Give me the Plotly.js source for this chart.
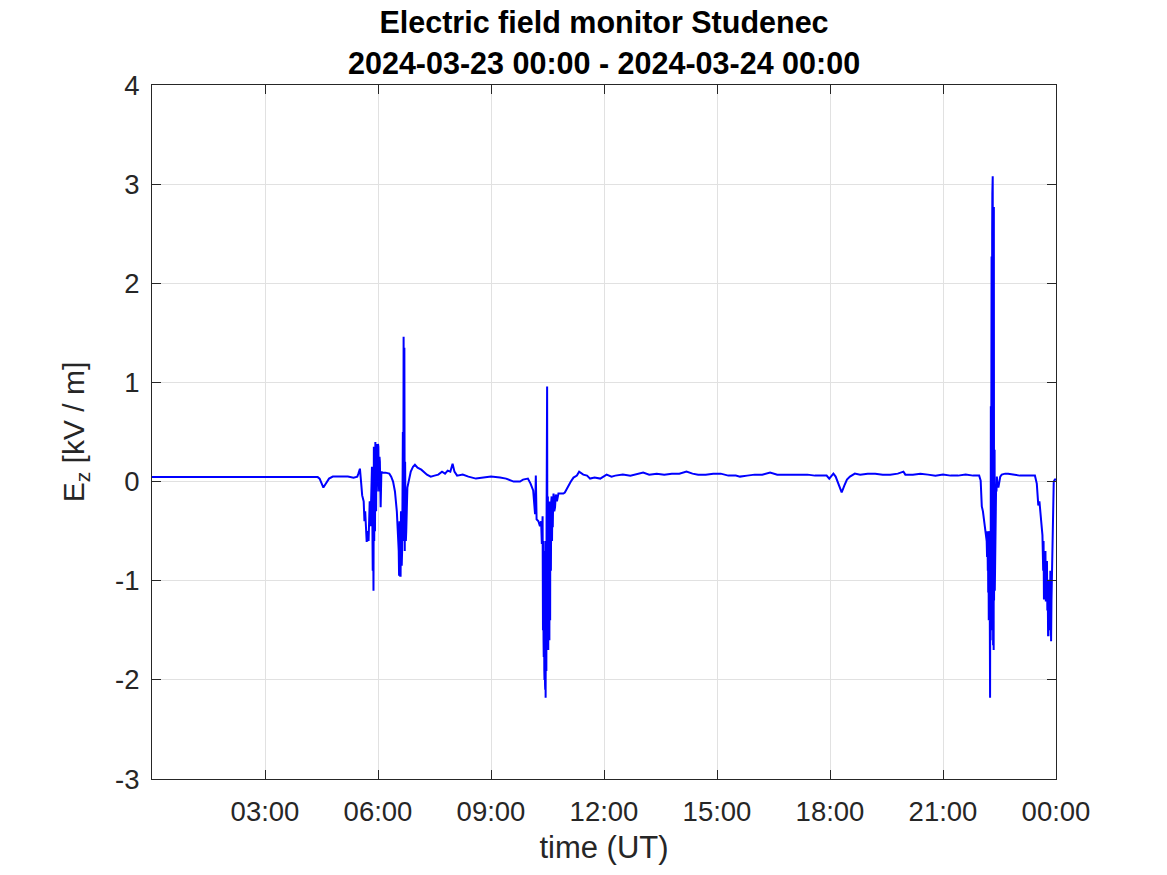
<!DOCTYPE html>
<html>
<head>
<meta charset="utf-8">
<script src="https://cdn.plot.ly/plotly-3.0.1.min.js"></script>
<style>html,body{margin:0;padding:0;background:#fff;}#chart{width:1167px;height:875px;}</style>
</head>
<body>
<div id="chart"></div>
<script>
// time in hours since 2024-03-23 00:00 UT
const hours = [
0.00,0.25,0.50,0.75,1.00,1.25,1.50,1.75,2.00,2.25,2.50,2.75,3.00,3.25,3.50,3.75,4.00,4.25,4.40,4.45,4.50,4.55,4.60,4.70,4.80,5.00,5.20,5.35,5.45,5.48,5.52,5.55,5.58,5.62,5.64,5.66,5.70,5.72,5.75,5.78,5.80,5.84,5.86,5.87,5.88,5.89,5.90,5.91,5.92,5.93,5.94,5.95,5.96,5.97,5.98,5.99,6.00,6.01,6.02,6.03,6.04,6.05,6.07,6.09,6.12,6.20,6.30,6.35,6.40,6.45,6.50,6.53,6.55,6.56,6.57,6.58,6.59,6.60,6.61,6.62,6.63,6.64,6.65,6.66,6.67,6.68,6.69,6.70,6.71,6.72,6.73,6.74,6.75,6.78,6.82,6.87,6.93,6.98,7.05,7.15,7.30,7.40,7.50,7.60,7.70,7.78,7.85,7.92,7.98,8.03,8.10,8.25,8.40,8.50,8.60,8.80,9.00,9.24,9.40,9.60,9.77,9.85,9.98,10.05,
10.12,10.17,10.19,10.21,10.26,10.30,10.33,10.35,10.37,10.38,10.385,10.39,10.395,10.40,10.405,10.41,10.415,10.42,10.425,10.43,10.435,10.44,10.445,10.45,10.455,10.46,10.465,10.47,10.475,10.48,10.49,10.50,10.505,10.51,10.515,10.52,10.525,10.53,10.535,10.54,10.545,10.55,10.555,10.56,10.565,10.57,10.575,10.58,10.585,10.59,10.60,10.61,10.62,10.63,10.64,10.65,10.66,10.68,10.70,10.72,10.75,10.79,10.85,10.92,10.96,11.05,11.12,11.19,11.28,11.34,11.45,11.55,11.63,11.75,11.90,12.07,12.20,12.30,12.50,12.70,12.90,13.04,13.20,13.40,13.60,13.80,14.00,14.19,14.35,14.50,14.70,14.90,15.10,15.30,15.50,15.61,15.80,16.00,16.20,16.41,16.60,16.80,17.03,17.20,17.40,17.60,17.80,17.91,17.98,18.09,18.15,18.22,18.31,18.38,18.45,18.53,18.66,18.80,19.00,19.20,19.40,19.60,19.80,19.95,20.00,20.20,20.40,20.60,20.80,21.00,21.20,21.40,21.60,21.80,21.96,
22.00,22.03,22.06,22.09,22.12,22.14,22.16,22.17,22.18,22.19,22.195,22.20,22.205,22.21,22.215,22.22,22.225,22.23,22.235,22.24,22.245,22.25,22.255,22.26,22.265,22.27,22.275,22.28,22.285,22.29,22.295,22.30,22.305,22.31,22.315,22.32,22.325,22.33,22.335,22.34,22.345,22.35,22.355,22.36,22.365,22.37,22.375,22.38,22.39,22.40,22.41,22.42,22.43,22.44,22.47,22.52,22.56,22.65,22.73,22.85,23.04,23.20,23.35,23.44,23.49,23.53,23.56,23.59,23.62,23.64,23.66,23.67,23.68,23.69,23.70,23.71,23.72,23.73,23.74,23.75,23.76,23.77,23.78,23.79,23.80,23.81,23.82,23.83,23.84,23.85,23.86,23.87,23.88,23.89,23.91,23.94,23.97,24.00
];
// vertical electric field Ez [kV/m]
const ez = [
0.045,0.045,0.048,0.047,0.050,0.048,0.050,0.046,0.045,0.047,0.048,0.046,0.050,0.047,0.050,0.052,0.046,0.047,0.045,0.030,-0.020,-0.060,-0.030,0.030,0.050,0.050,0.050,0.040,0.050,0.080,0.130,0.000,-0.140,-0.200,-0.400,-0.300,-0.610,-0.500,-0.600,-0.200,-0.450,0.150,-0.900,-0.300,-1.100,0.350,-0.600,0.200,-0.500,0.400,-0.200,-0.300,0.380,-0.100,0.300,0.100,0.380,0.350,0.000,-0.100,0.250,0.200,-0.260,0.100,0.090,0.090,0.080,0.050,0.000,-0.100,-0.300,-0.550,-0.700,-0.950,-0.400,-0.700,-0.950,-0.950,-0.300,-0.500,-0.850,-0.700,-0.200,0.500,-0.600,1.460,-0.400,1.350,-0.700,0.200,-0.300,-0.600,-0.500,-0.060,0.000,0.100,0.150,0.170,0.140,0.120,0.070,0.050,0.060,0.070,0.100,0.080,0.110,0.100,0.180,0.100,0.060,0.070,0.050,0.040,0.030,0.040,0.050,0.040,0.030,0.000,0.000,0.020,0.030,-0.020,
-0.090,-0.330,0.060,-0.380,-0.400,-0.450,-0.400,-0.630,-0.350,-1.500,-0.600,-0.800,-1.600,-1.770,-0.700,-1.000,-1.900,-2.000,-0.900,-1.200,-2.050,-2.100,-0.600,-2.180,-0.800,-0.800,-1.900,-1.900,-0.400,-0.200,0.960,-1.600,-0.300,-0.150,-1.500,-1.700,-0.300,-0.200,-1.600,-1.450,-0.400,-1.600,-0.250,-0.300,-1.300,-1.400,-0.200,-0.250,-1.000,-0.900,-0.200,-0.150,-0.600,-0.150,-0.460,-0.200,-0.120,-0.300,-0.260,-0.130,-0.200,-0.120,-0.120,-0.120,-0.110,-0.040,0.000,0.040,0.060,0.100,0.070,0.060,0.030,0.040,0.030,0.070,0.050,0.060,0.070,0.060,0.080,0.090,0.070,0.080,0.070,0.080,0.080,0.100,0.080,0.070,0.070,0.080,0.080,0.060,0.060,0.050,0.060,0.070,0.070,0.090,0.070,0.070,0.070,0.070,0.070,0.060,0.060,0.060,0.030,0.080,0.050,-0.030,-0.110,-0.040,0.020,0.050,0.080,0.070,0.080,0.080,0.070,0.070,0.080,0.100,0.070,0.070,0.080,0.070,0.060,0.070,0.060,0.060,0.070,0.060,0.060,
0.010,-0.250,-0.300,-0.400,-0.450,-0.550,-0.600,-0.760,-0.500,-0.900,-0.500,-1.120,-0.600,-0.850,-1.400,-1.300,-0.600,-1.510,-0.500,-1.200,-1.500,-2.180,-0.900,-0.500,-1.600,0.760,-1.400,-1.300,1.200,2.270,-1.200,-1.500,2.500,2.900,-1.000,3.080,-0.800,-1.650,1.500,0.500,-1.700,2.770,-1.200,-1.180,0.800,0.320,-1.100,-0.800,-0.200,-0.400,-0.050,-0.100,0.050,0.000,-0.060,0.050,0.070,0.080,0.080,0.070,0.060,0.060,0.060,0.060,-0.020,-0.240,-0.200,-0.360,-0.500,-0.540,-0.900,-0.600,-1.190,-0.700,-0.800,-1.100,-0.700,-1.200,-1.200,-0.960,-0.800,-1.300,-1.000,-1.550,-1.550,-1.000,-1.000,-1.500,-1.400,-0.900,-1.600,-1.610,-1.200,-0.900,-0.360,0.000,0.020,0.020
];
const tickVals = [3,6,9,12,15,18,21,24];
const tickText = ["03:00","06:00","09:00","12:00","15:00","18:00","21:00","00:00"];
const yTickVals = [-3,-2,-1,0,1,2,3,4];
const yTickText = ["-3","-2","-1","0","1","2","3","4"];
const titleLine1 = "Electric field monitor Studenec";
const titleLine2 = "2024-03-23 00:00 - 2024-03-24 00:00";

const fontFam = "Liberation Sans, Arial, sans-serif";
const axCol = "#262626";

const trace = {
  x: hours, y: ez, type: "scatter", mode: "lines",
  line: {color: "#0000ff", width: 2}, hoverinfo: "skip"
};
const layout = {
  width: 1167, height: 875,
  margin: {l: 152, r: 111, t: 85, b: 96, pad: 0},
  paper_bgcolor: "#ffffff", plot_bgcolor: "#ffffff",
  showlegend: false,
  font: {family: fontFam, color: axCol},
  title: {
    text: "<b>" + titleLine1 + "</b>",
    font: {family: fontFam, size: 30.5, color: "#000000"},
    xref: "paper", x: 0.5, xanchor: "center",
    yref: "container", y: 1 - 22/875, yanchor: "middle"
  },
  annotations: [{
    text: "<b>" + titleLine2 + "</b>",
    font: {family: fontFam, size: 30.5, color: "#000000"},
    xref: "paper", x: 0.5, xanchor: "center",
    yref: "paper", y: 1 + 22/694, yanchor: "middle",
    showarrow: false
  }],
  xaxis: {
    range: [0, 24], tickmode: "array", tickvals: tickVals, ticktext: tickText,
    ticks: "inside", ticklen: 9, tickwidth: 1, tickcolor: axCol,
    showline: true, linecolor: axCol, linewidth: 1, mirror: "allticks",
    showgrid: true, gridcolor: "#e1e1e1", gridwidth: 1, zeroline: false,
    tickfont: {family: fontFam, size: 27.5, color: axCol},
    ticklabelstandoff: 8,
    title: {text: "time (UT)", font: {family: fontFam, size: 31, color: axCol}, standoff: 10}
  },
  yaxis: {
    range: [-3, 4], tickmode: "array", tickvals: yTickVals, ticktext: yTickText,
    ticks: "inside", ticklen: 9, tickwidth: 1, tickcolor: axCol,
    showline: true, linecolor: axCol, linewidth: 1, mirror: "allticks",
    showgrid: true, gridcolor: "#e1e1e1", gridwidth: 1, zeroline: false,
    tickfont: {family: fontFam, size: 27.5, color: axCol},
    ticklabelstandoff: 6,
    title: {text: "E<sub>z</sub> [kV / m]", font: {family: fontFam, size: 30, color: axCol}, standoff: 21}
  }
};
Plotly.newPlot("chart", [trace], layout, {displayModeBar: false, staticPlot: true});
</script>
</body>
</html>
